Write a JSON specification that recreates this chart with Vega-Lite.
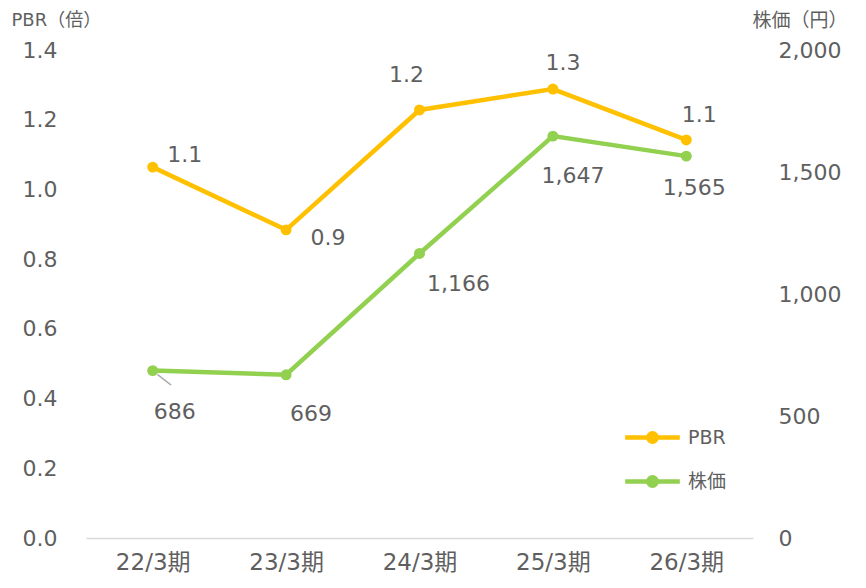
{
  "$schema": "https://vega.github.io/schema/vega-lite/v6.json",
  "width": 667,
  "height": 488,
  "autosize": "none",
  "padding": {"left": 86, "top": 50, "right": 113, "bottom": 50},
  "background": "white",
  "config": {
    "view": {"stroke": null},
    "font": "DejaVu Sans, Noto Sans CJK JP",
    "text": {"font": "DejaVu Sans, Noto Sans CJK JP"},
    "axis": {"labelFont": "DejaVu Sans, Noto Sans CJK JP", "titleFont": "DejaVu Sans, Noto Sans CJK JP", "grid": false, "ticks": false, "labelColor": "#5F5F5F", "titleColor": "#5F5F5F", "labelFontSize": 22, "titleFontWeight": "normal"}
  },
  "data": {
    "values": [
      {"period": "22/3期", "pbr": 1.064, "pbrLabel": "1.1", "price": 686},
      {"period": "23/3期", "pbr": 0.884, "pbrLabel": "0.9", "price": 669},
      {"period": "24/3期", "pbr": 1.228, "pbrLabel": "1.2", "price": 1166},
      {"period": "25/3期", "pbr": 1.288, "pbrLabel": "1.3", "price": 1647},
      {"period": "26/3期", "pbr": 1.142, "pbrLabel": "1.1", "price": 1565}
    ]
  },
  "encoding": {
    "x": {"field": "period", "type": "nominal", "sort": null, "scale": {"paddingInner": 0, "paddingOuter": 0.5},
      "axis": {"title": null, "labelAngle": 0, "labelPadding": 13, "domainColor": "#D9D9D9", "domainWidth": 1.5, "labelFontSize": 23}}
  },
  "layer": [
    {
      "encoding": {
        "y": {"field": "pbr", "type": "quantitative", "scale": {"domain": [0, 1.4]},
          "axis": {"values": [0, 0.2, 0.4, 0.6, 0.8, 1.0, 1.2, 1.4], "format": ".1f", "domain": false, "labelPadding": 29, "title": "PBR（倍）", "titleAngle": 0, "titleAlign": "left", "titleBaseline": "middle", "titleX": -75, "titleY": -30, "titleFontSize": 18}}
      },
      "layer": [
        {"mark": {"type": "line", "strokeWidth": 4.5, "point": {"filled": true, "size": 120}},
         "encoding": {"color": {"datum": "PBR", "type": "nominal", "scale": {"domain": ["PBR", "株価"], "range": ["#FFC000", "#92D050"]},
           "legend": {"title": null, "orient": "none", "legendX": 543, "legendY": 364, "symbolType": "M -1.3 0 L 1.3 0 M 0.2 0 A 0.2 0.2 0 1 1 -0.2 0 A 0.2 0.2 0 1 1 0.2 0 Z", "symbolSize": 1764, "symbolStrokeWidth": 4.5, "labelFontSize": 19, "labelColor": "#5F5F5F", "labelFont": "DejaVu Sans, Noto Sans CJK JP", "rowPadding": 7, "labelOffset": 12}}}},
        {"transform": [{"filter": "datum.period === '22/3期'"}], "mark": {"type": "text", "fontSize": 22, "color": "#5F5F5F", "dx": 32, "dy": -12}, "encoding": {"text": {"field": "pbrLabel"}}},
        {"transform": [{"filter": "datum.period === '23/3期'"}], "mark": {"type": "text", "fontSize": 22, "color": "#5F5F5F", "dx": 42, "dy": 8}, "encoding": {"text": {"field": "pbrLabel"}}},
        {"transform": [{"filter": "datum.period === '24/3期'"}], "mark": {"type": "text", "fontSize": 22, "color": "#5F5F5F", "dx": -13, "dy": -35}, "encoding": {"text": {"field": "pbrLabel"}}},
        {"transform": [{"filter": "datum.period === '25/3期'"}], "mark": {"type": "text", "fontSize": 22, "color": "#5F5F5F", "dx": 10, "dy": -26}, "encoding": {"text": {"field": "pbrLabel"}}},
        {"transform": [{"filter": "datum.period === '26/3期'"}], "mark": {"type": "text", "fontSize": 22, "color": "#5F5F5F", "dx": 13, "dy": -25}, "encoding": {"text": {"field": "pbrLabel"}}}
      ]
    },
    {
      "encoding": {
        "y": {"field": "price", "type": "quantitative", "scale": {"domain": [0, 2000]},
          "axis": {"orient": "right", "values": [0, 500, 1000, 1500, 2000], "format": ",.0f", "domain": false, "labelPadding": 25, "title": "株価（円）", "titleAngle": 0, "titleAlign": "left", "titleBaseline": "middle", "titleX": -1, "titleY": -30, "titleFontSize": 19}}
      },
      "layer": [
        {"mark": {"type": "line", "strokeWidth": 4.5, "point": {"filled": true, "size": 120}},
         "encoding": {"color": {"datum": "株価", "type": "nominal"}}},
        {"transform": [{"filter": "datum.period === '22/3期'"}], "mark": {"type": "text", "fontSize": 19, "color": "#A6A6A6", "text": "—", "angle": 38, "dx": 14.6, "dy": -0.7}},
        {"transform": [{"filter": "datum.period === '22/3期'"}], "mark": {"type": "text", "fontSize": 22, "color": "#5F5F5F", "dx": 22, "dy": 41}, "encoding": {"text": {"field": "price", "format": ","}}},
        {"transform": [{"filter": "datum.period === '23/3期'"}], "mark": {"type": "text", "fontSize": 22, "color": "#5F5F5F", "dx": 25, "dy": 39}, "encoding": {"text": {"field": "price", "format": ","}}},
        {"transform": [{"filter": "datum.period === '24/3期'"}], "mark": {"type": "text", "fontSize": 22, "color": "#5F5F5F", "dx": 39, "dy": 31}, "encoding": {"text": {"field": "price", "format": ","}}},
        {"transform": [{"filter": "datum.period === '25/3期'"}], "mark": {"type": "text", "fontSize": 22, "color": "#5F5F5F", "dx": 20, "dy": 40}, "encoding": {"text": {"field": "price", "format": ","}}},
        {"transform": [{"filter": "datum.period === '26/3期'"}], "mark": {"type": "text", "fontSize": 22, "color": "#5F5F5F", "dx": 8, "dy": 32}, "encoding": {"text": {"field": "price", "format": ","}}}
      ]
    }
  ],
  "resolve": {"scale": {"y": "independent"}}
}
